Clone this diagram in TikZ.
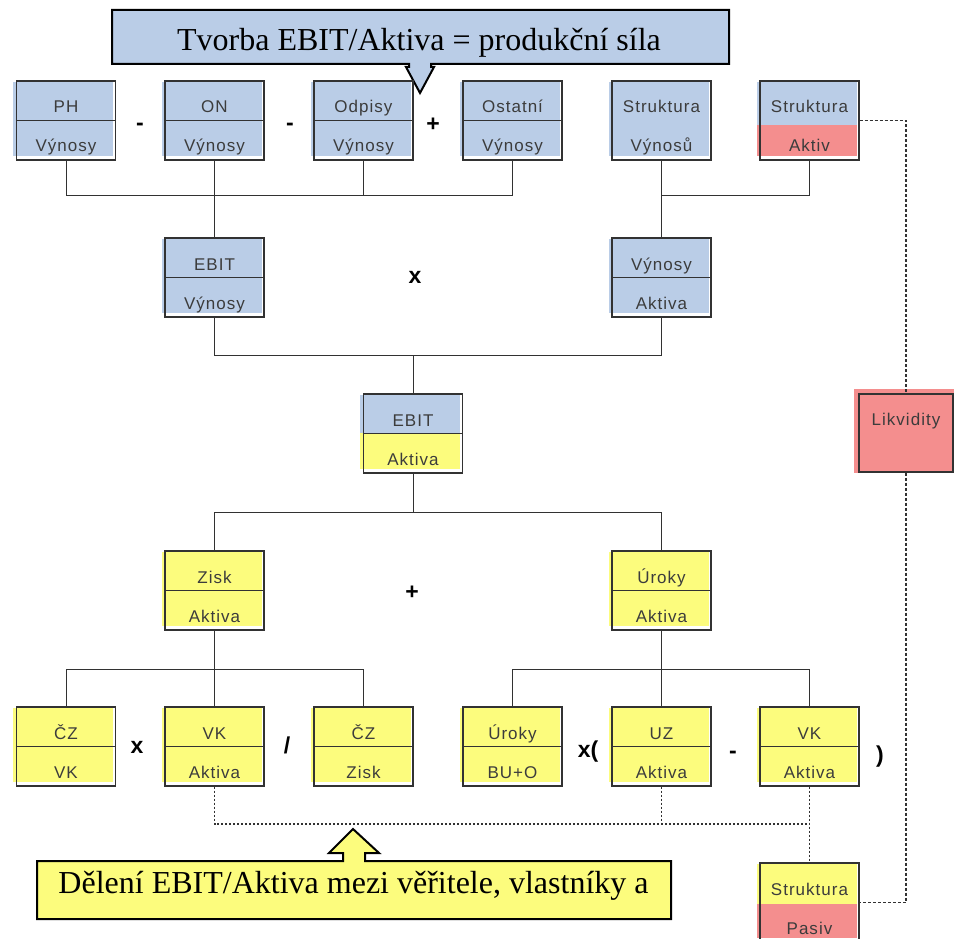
\documentclass[tikz,border=0pt]{standalone}
\usepackage{fontspec}
\setmainfont{Liberation Serif}
\setsansfont{Liberation Sans}
\newfontfamily\lblfont[LetterSpace=6]{Liberation Sans}
\definecolor{bfill}{RGB}{186,205,231}
\definecolor{yfill}{RGB}{252,252,125}
\definecolor{rfill}{RGB}{244,142,142}
\definecolor{edge}{RGB}{50,50,50}
\definecolor{lbltxt}{RGB}{60,60,60}
\tikzset{
 rbox/.style={draw=edge, line width=1.1pt, minimum width=99pt, minimum height=79pt, inner sep=0pt},
 lbl/.style={font=\lblfont\fontsize{17}{17}\selectfont, text=lbltxt, inner sep=0pt, anchor=base},
 op/.style={font=\sffamily\bfseries\fontsize{23}{23}\selectfont, inner sep=0pt},
 conn/.style={draw=edge, line width=1pt},
 dotline/.style={draw=edge, line width=1.2pt, dash pattern=on 2pt off 2pt},
 dashline/.style={draw=edge, line width=1.2pt, dash pattern=on 3pt off 2pt},
 callout/.style={draw=black, line width=2pt, line join=miter},
 ctext/.style={font=\fontsize{32}{32}\selectfont, inner sep=0pt, anchor=base},
}
% #1 name, #2 centre x, #3 top y, #4 upper text, #5 lower text,
% #6 upper colour, #7 lower colour, #8 divider (1/0), #9 colour split offset
\newcommand{\RBox}[9]{%
 \fill[#6] ({#2-53},{#3+1}) rectangle ({#2+47},{#3+#9});
 \fill[#7] ({#2-53},{#3+#9}) rectangle ({#2+47},{#3+75});
 \node[rbox] (#1) at (#2,{#3+39.5}) {};
 \ifnum#8=1 \draw[conn] (#1.west) -- (#1.east);\fi
 \node[lbl] (#1-t) at (#2,{#3+32}) {#4};
 \node[lbl] (#1-b) at (#2,{#3+71}) {#5};
}
\begin{document}
\begin{tikzpicture}[x=1pt,y=-1pt]
\clip (0,0) rectangle (954,939);
\fill[white] (0,0) rectangle (954,939);

% ---------- top callout ----------
\path[callout, fill=bfill] (112,10) -- (729,10) -- (729,64) -- (431,64) -- (431,67)
  -- (434,67) -- (420,93) -- (406,67) -- (409,67) -- (409,64) -- (112,64) -- cycle;
\node[ctext] (ctop) at (419,51) {Tvorba EBIT/Aktiva = produkční síla};

% ---------- top row ----------
\RBox{ph}{66}{81}{PH}{Výnosy}{bfill}{bfill}{1}{40}
\RBox{on}{214.5}{81}{ON}{Výnosy}{bfill}{bfill}{1}{40}
\RBox{odp}{363.5}{81}{Odpisy}{Výnosy}{bfill}{bfill}{1}{40}
\RBox{ost}{512.5}{81}{Ostatní}{Výnosy}{bfill}{bfill}{1}{40}
\RBox{sv}{661.5}{81}{Struktura}{Výnosů}{bfill}{bfill}{0}{40}
\RBox{sa}{809.5}{81}{Struktura}{Aktiv}{bfill}{rfill}{0}{44}
\node[op] (m1) at (140,127) {-};
\node[op] (m2) at (290,127) {-};
\node[op] (p1) at (433,125) {+};

% ---------- second row ----------
\RBox{ebv}{214.5}{238}{EBIT}{Výnosy}{bfill}{bfill}{1}{40}
\RBox{va}{661.5}{238}{Výnosy}{Aktiva}{bfill}{bfill}{1}{40}
\node[op] (x1) at (415,277) {x};

% ---------- EBIT / Aktiva ----------
\RBox{ea}{413}{394}{EBIT}{Aktiva}{bfill}{yfill}{1}{39}

% ---------- Likvidity ----------
\fill[rfill] (854,389) rectangle (954,473);
\node[rbox, minimum width=94pt, minimum height=78pt] (lik) at (906,433) {};
\node[lbl] (lik-t) at (906,425) {Likvidity};

% ---------- third row ----------
\RBox{zisk}{214.5}{551}{Zisk}{Aktiva}{yfill}{yfill}{1}{40}
\RBox{urok}{661.5}{551}{Úroky}{Aktiva}{yfill}{yfill}{1}{40}
\node[op] (p2) at (412,593) {+};

% ---------- bottom row ----------
\RBox{czvk}{66}{707}{ČZ}{VK}{yfill}{yfill}{1}{40}
\RBox{vka}{214.5}{707}{VK}{Aktiva}{yfill}{yfill}{1}{40}
\RBox{czz}{363.5}{707}{ČZ}{Zisk}{yfill}{yfill}{1}{40}
\RBox{ubo}{512.5}{707}{Úroky}{BU+O}{yfill}{yfill}{1}{40}
\RBox{uza}{661.5}{707}{UZ}{Aktiva}{yfill}{yfill}{1}{40}
\RBox{vkb}{809.5}{707}{VK}{Aktiva}{yfill}{yfill}{1}{40}
\node[op] (x2) at (137,747) {x};
\node[op] (d1) at (287,745) {/};
\node[op] (x3) at (588,752) {x(};
\node[op] (m3) at (733,755) {-};
\node[op] (rp) at (880,757) {)};

% ---------- Struktura Pasiv ----------
\RBox{sp}{809.5}{863}{Struktura}{Pasiv}{yfill}{rfill}{0}{41}

% ---------- bottom callout ----------
\path[callout, fill=yfill] (37,861) -- (343,861) -- (343,853) -- (329,853) -- (353,829)
  -- (379,853) -- (365,853) -- (365,861) -- (671,861) -- (671,919) -- (37,919) -- cycle;
\node[ctext] (cbot) at (353.5,893) {Dělení EBIT/Aktiva mezi věřitele, vlastníky a};

% ---------- connectors ----------
\draw[conn] (ph.south) -- ++(0,35) -| (ost.south);
\draw[conn] (odp.south) -- ++(0,35);
\draw[conn] (on.south) -- (ebv.north);
\draw[conn] (sv.south) -- ++(0,35) -| (sa.south);
\draw[conn] (sv.south) -- (va.north);

\coordinate (j1) at (413,355);
\draw[conn] (ebv.south) |- (j1);
\draw[conn] (va.south) |- (j1);
\draw[conn] (j1) -- (ea.north);

\coordinate (j2) at (413,512);
\draw[conn] (ea.south) -- (j2);
\draw[conn] (j2) -| (zisk.north);
\draw[conn] (j2) -| (urok.north);

\coordinate (j3) at (214.5,669);
\draw[conn] (zisk.south) -- (j3) -- (vka.north);
\draw[conn] (j3) -| (czvk.north);
\draw[conn] (j3) -| (czz.north);

\coordinate (j4) at (661.5,669);
\draw[conn] (urok.south) -- (j4) -- (uza.north);
\draw[conn] (j4) -| (ubo.north);
\draw[conn] (j4) -| (vkb.north);

\coordinate (j5) at (809.5,824);
\draw[dotline] (vka.south) |- (j5);
\draw[dotline] (uza.south) -- (uza.south |- j5);
\draw[dotline] (vkb.south) -- (sp.north);

\draw[dashline] (sa.east) -| (lik.north);
\draw[dashline] (lik.south) |- (sp.east);
\end{tikzpicture}
\end{document}
